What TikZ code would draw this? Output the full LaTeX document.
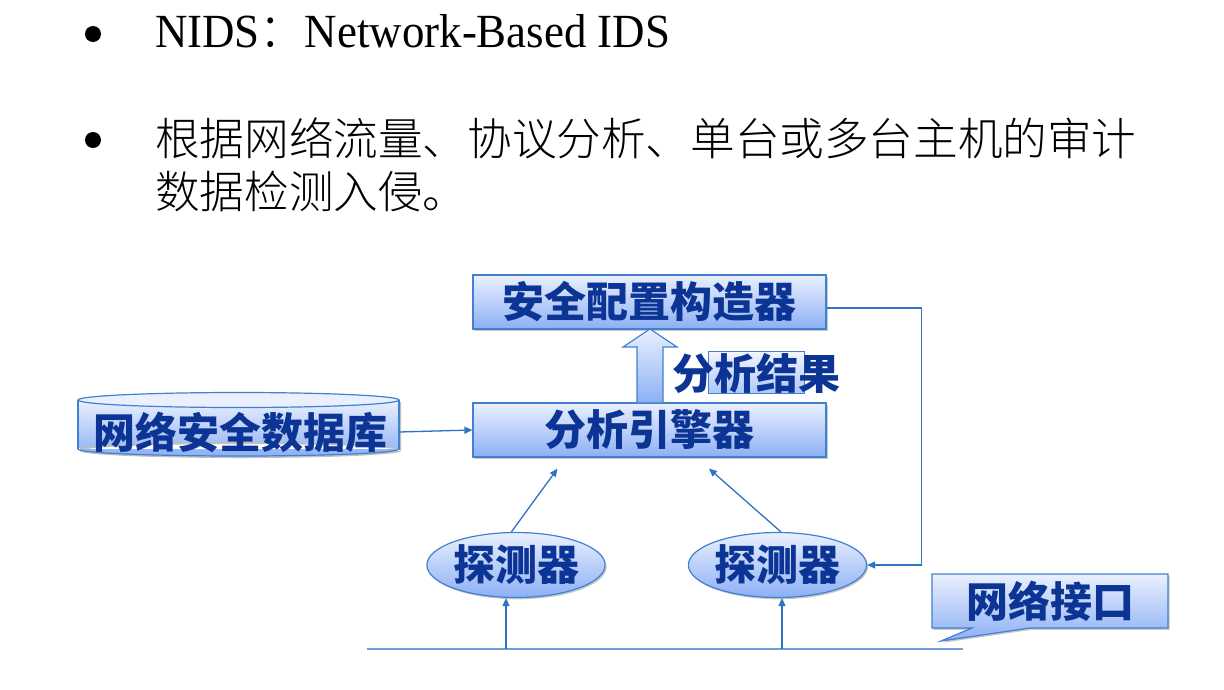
\documentclass[tikz,border=0pt]{standalone}
\usepackage{fontspec}
\setmainfont{Liberation Serif}
\newfontfamily\cjk{Noto Sans CJK SC}
\newfontfamily\cjkl{Noto Sans CJK SC Light}
\usetikzlibrary{arrows.meta,shadows,shapes.geometric,calc}
\definecolor{boxtop}{RGB}{234,240,254}
\definecolor{boxbot}{RGB}{140,176,245}
\definecolor{bordc}{RGB}{66,128,208}
\definecolor{txtblue}{RGB}{12,52,148}
\definecolor{linec}{RGB}{46,116,196}
\definecolor{busc}{RGB}{110,160,216}
\begin{document}
\begin{tikzpicture}[x=1pt,y=-1pt,
  shade/.style={top color=boxtop, bottom color=boxbot},
  box/.style={draw=bordc, line width=1.2pt, shade,
    drop shadow={shadow xshift=1.5pt,shadow yshift=-1.8pt,opacity=0.3,fill=black!70},
    inner sep=0pt},
  lbl/.style={font=\cjk\bfseries\fontsize{42}{42}\selectfont, text=txtblue},
  conn/.style={draw=linec, line width=1.3pt, -{Triangle[length=8pt,width=7pt]}},
]
\useasboundingbox (0,0) rectangle (1224,689);
\fill[white] (0,0) rectangle (1224,689);

% top bullets
\fill[black] (93,34) circle[radius=8];
\fill[black] (93,140) circle[radius=8];
\node[anchor=south west, inner sep=0pt] (t1) at (155,48)
  {\resizebox{515pt}{33pt}{NIDS{\cjkl ：}Network-Based IDS}};
\node[anchor=west, inner sep=0pt, font=\cjkl\fontsize{44.6}{44.6}\selectfont] (t2) at (155,138)
  {根据网络流量、协议分析、单台或多台主机的审计};
\node[anchor=west, inner sep=0pt, font=\cjkl\fontsize{44.6}{44.6}\selectfont] (t3) at (155,192)
  {数据检测入侵。};

% boxes
\node[box, lbl, minimum width=353, minimum height=54] (cfg) at (649.5,302) {安全配置构造器};
\node[box, lbl, minimum width=353, minimum height=54] (eng) at (649.5,430) {分析引擎器};

% block arrow
\path[draw=bordc, line width=1.2pt, shade]
  (637,403) -- (637,347) -- (623,347) -- (650,329) -- (677,347) -- (663,347) -- (663,403) -- cycle;

% odd label frame
\path[draw=bordc, line width=0.9pt, top color=boxtop!60!white, bottom color=boxbot!70!white] (708,351) rectangle (804,393);
\node[lbl, inner sep=0pt] (res) at (756,373) {分析结果};

% cylinder database
\fill[black, opacity=0.25] (80,402) rectangle (401,451) (240.5,451) ellipse[x radius=160.5, y radius=7];
\path[shade] (78,400) rectangle (399,449) (238.5,449) ellipse[x radius=160.5, y radius=7];
\begin{scope}
  \clip (0,449) rectangle (1224,470);
  \draw[bordc, line width=1.2pt] (238.5,449) ellipse[x radius=160.5, y radius=7];
\end{scope}
\draw[bordc, line width=1.2pt] (78,400) -- (78,449) (399,400) -- (399,449);
\draw[bordc, line width=1.2pt, fill=boxtop] (238.5,400) ellipse[x radius=160.5, y radius=7.5];
\node[lbl, inner sep=0pt] (db) at (240,432) {网络安全数据库};
\coordinate (dbR) at (399,432);
\draw[conn] (dbR) -- (eng.west);

% detectors
\node[box, lbl, ellipse, minimum width=170, minimum height=65] (d1) at (516,565) {探测器};
\node[box, lbl, ellipse, minimum width=160, minimum height=65] (d2) at (777.5,565) {探测器};

\draw[conn] (d1.98) -- ($(eng.south)+(-92,11)$);
\draw[conn] (d2.84) -- ($(eng.south)+(59.5,11)$);

% feedback
\draw[conn] ([yshift=-6pt]cfg.east) -- ++(95,0) |- (d2.east);

% bus
\coordinate (busL) at (367,649);
\coordinate (busR) at (963,649);
\draw[busc, line width=2pt] (busL) -- (busR);
\coordinate (b1) at (506,649);
\coordinate (b2) at (782,649);
\draw[conn] (b1) -- (b1 |- d1.south);
\draw[conn] (b2) -- (b2 |- d2.south);

% callout
\path[box] (932,574) -- (1168,574) -- (1168,628) -- (1030,628) -- (941,641) -- (972,628) -- (932,628) -- cycle;
\node[lbl, inner sep=0pt] (ni) at (1050,601) {网络接口};
\end{tikzpicture}
\end{document}
